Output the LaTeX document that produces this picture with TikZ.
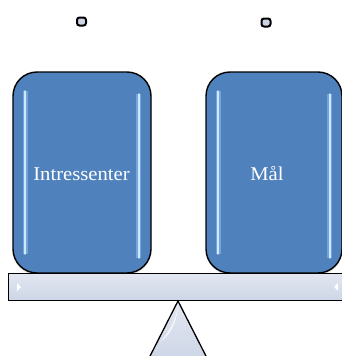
\documentclass[tikz,border=0pt]{standalone}
\usepackage{fontspec}
\setmainfont[FakeStretch=1.06]{Liberation Serif}
\usetikzlibrary{shadows}
\definecolor{boxblue}{RGB}{79,129,189}
\definecolor{glint}{RGB}{205,232,255}
\definecolor{halo}{RGB}{140,190,240}
\definecolor{beamtop}{RGB}{226,231,241}
\definecolor{beambot}{RGB}{205,213,229}
\tikzset{
  pan/.style={draw=black, line width=1.4pt, rounded corners=24pt, fill=boxblue,
    text=white, font=\fontsize{19.5}{22}\selectfont, inner sep=0pt,
    drop shadow={shadow xshift=0pt, shadow yshift=-2pt, opacity=0.25}},
  glow/.style={glint, line width=2.2pt, line cap=round,
    preaction={draw=halo, line width=5pt, opacity=0.6}},
  peg/.style={draw=black, line width=2pt, rounded corners=2.5pt, fill=beambot,
    minimum width=9pt, minimum height=8pt, inner sep=0pt},
  plank/.style={draw=black, line width=1.2pt, top color=beamtop, bottom color=beambot},
}
\begin{document}
\begin{tikzpicture}[x=1pt,y=-1pt]
\useasboundingbox (0,0) rectangle (342,356);
\begin{scope}
\clip (0,0) rectangle (342,356);
% fulcrum
\draw[plank, line width=1.3pt, line join=round] (178,301) -- (209,362) -- (147,362) -- cycle;
\fill[white, opacity=0.7] (178,306) .. controls (176,320) and (168,334) .. (160,342)
  .. controls (170,336) and (177,322) .. (178,306) -- cycle;
% the two pans
\node[pan, minimum width=138pt, minimum height=201pt] (left) at (82,172.5) {};
\node[pan, minimum width=136pt, minimum height=201pt] (right) at (274,172.5) {};
% glossy side streaks
\draw[glow] ([xshift=13pt,yshift=-20pt]left.north west) -- ([xshift=13pt,yshift=20pt]left.south west);
\draw[glow] ([xshift=-13pt,yshift=-23pt]left.north east) -- ([xshift=-13pt,yshift=16pt]left.south east);
\draw[glow] ([xshift=13pt,yshift=-20pt]right.north west) -- ([xshift=13pt,yshift=20pt]right.south west);
\draw[glow] ([xshift=-13pt,yshift=-23pt]right.north east) -- ([xshift=-13pt,yshift=16pt]right.south east);
% labels
\node[text=white, font=\fontsize{19.5}{22}\selectfont] (llabel) at (81.5,174) {Intressenter};
\node[text=white, font=\fontsize{19.5}{22}\selectfont] (rlabel) at (267,174) {Mål};
% beam
\draw[plank] (8.5,273.5) rectangle (350,300.5);
\fill[white] (17,283) -- (21,287) -- (17,291) -- cycle;
\fill[white] (338,283) -- (334,287) -- (338,291) -- cycle;
% pegs
\node[peg] (pegl) at (81.5,21.5) {};
\node[peg] (pegr) at (266,22.5) {};
\end{scope}
\end{tikzpicture}
\end{document}
